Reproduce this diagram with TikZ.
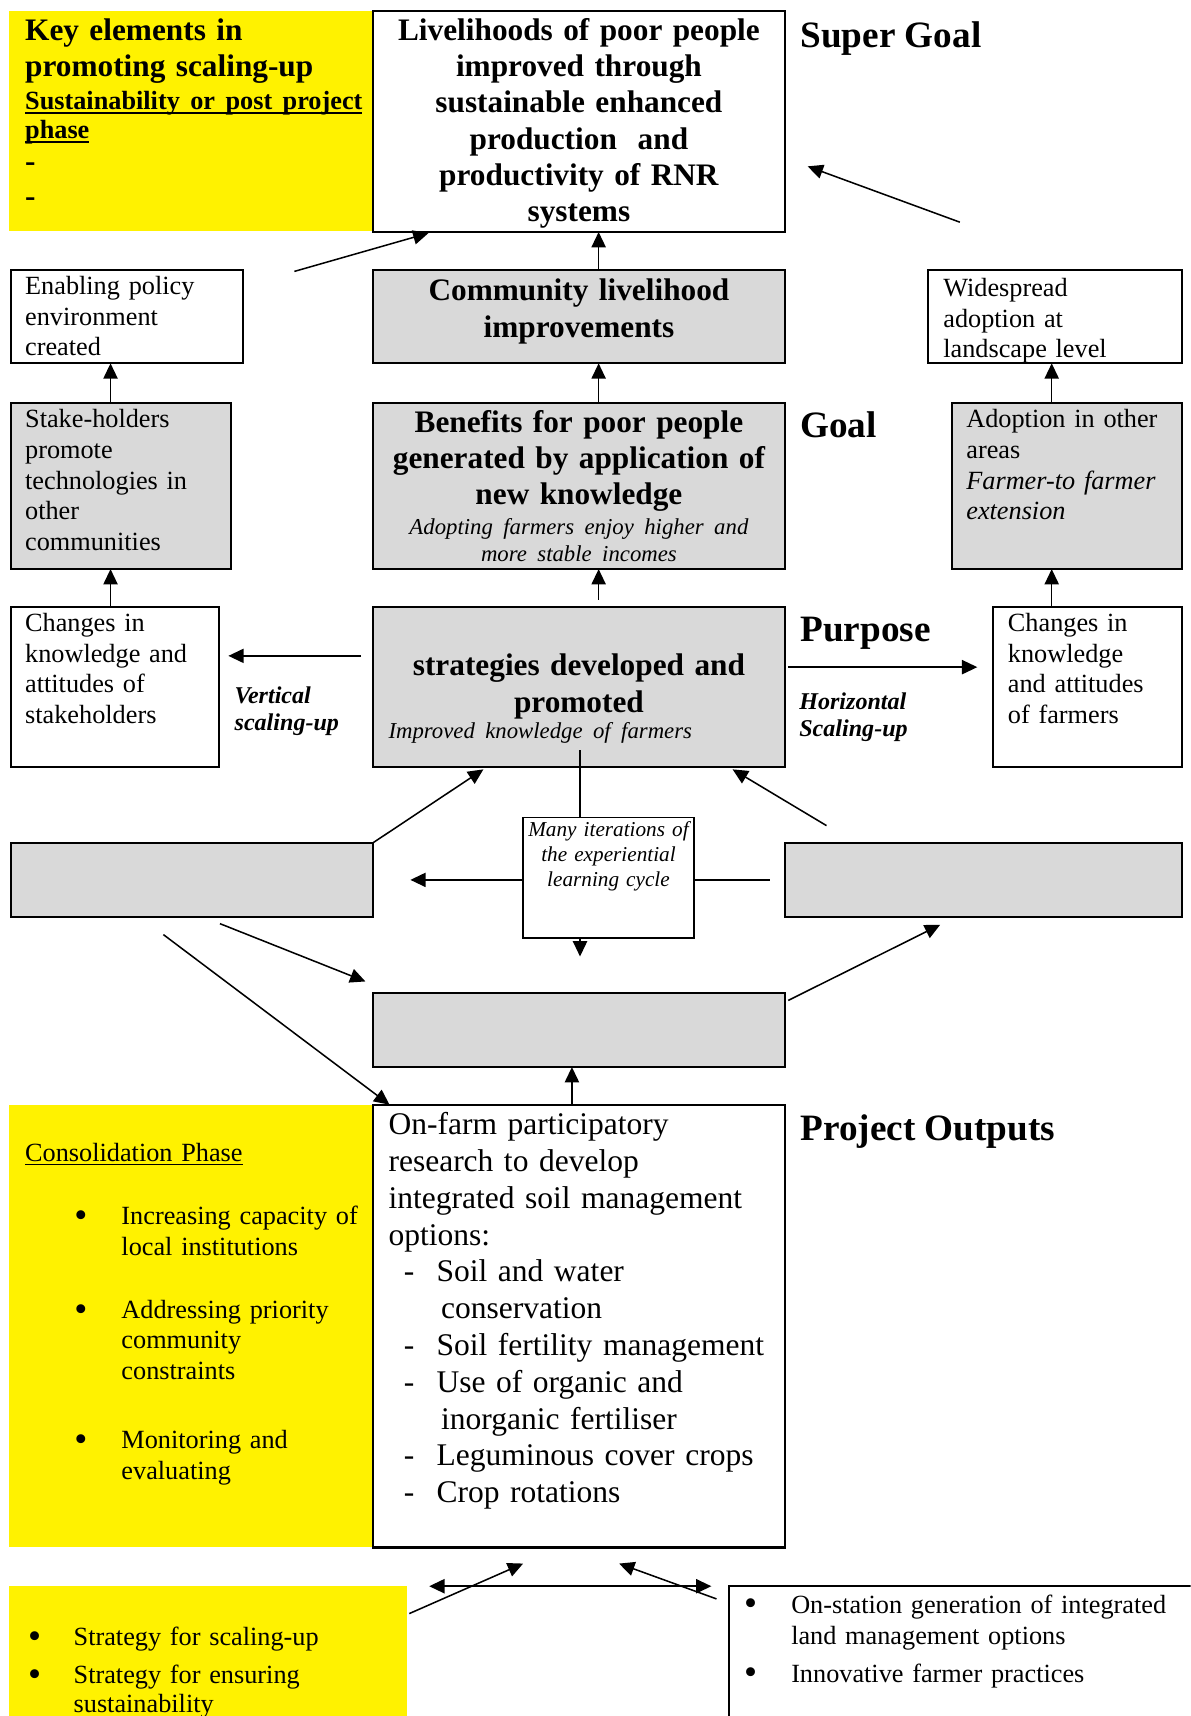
\documentclass[tikz,border=0pt]{standalone}
\usepackage{fontspec}
\setmainfont{Liberation Serif}
\usetikzlibrary{arrows.meta, calc}
\tikzset{arr/.style={-{Triangle[length=7pt, width=6.5pt]}, line width=0.7pt}}
\tikzset{arrb/.style={{Triangle[length=7pt, width=6.5pt]}-{Triangle[length=7pt, width=6.5pt]}, line width=0.7pt}}

\newcommand\fbig{\normalfont\fontsize{14.3}{16.5}\selectfont\bfseries}
\newcommand\fmid{\normalfont\fontsize{14.4}{16.8}\selectfont}
\newcommand\fnorm{\normalfont\fontsize{12}{14}\selectfont}
\newcommand\fsmbf{\normalfont\fontsize{12}{14}\selectfont\bfseries}
\newcommand\fsmit{\normalfont\fontsize{10.4}{12.5}\selectfont\itshape}
\newcommand\ftinyit{\normalfont\fontsize{9.7}{11.5}\selectfont\itshape}
\newcommand\fhead{\normalfont\fontsize{17}{20}\selectfont\bfseries}
\newcommand\fscal{\normalfont\fontsize{11}{12.3}\selectfont\bfseries\itshape}
\newcommand\bul{\raisebox{-1.3pt}{\fontsize{17}{14}\selectfont\textbullet}}
\newsavebox\ulbox
\newcommand\undl[1]{\leavevmode\sbox\ulbox{#1}\rlap{\rule[-1.8pt]{\wd\ulbox}{0.7pt}}\usebox\ulbox}

\begin{document}
\begin{tikzpicture}[
      x=0.5pt, y=-0.5pt,
      box/.style={draw, line width=1pt, anchor=north west, inner ysep=0pt, outer sep=0pt, align=left},
      shaded/.style={box, fill=gray!30},
      yel/.style={fill=yellow, anchor=north west, inner ysep=0pt, outer sep=0pt, align=left},
      lbl/.style={anchor=base west, inner sep=0pt, font=\fhead},
  ]
      \useasboundingbox (0,0) rectangle (1088,1568);
      \clip (0,0) rectangle (1088,1568);
      \fill[white] (0,0) rectangle (1088,1568);

      % Top row: key elements and super goal
      \node[yel, inner xsep=7.5pt, text width=151.5pt, text height=13.6pt, text depth=86.9pt, font=\fbig] (keyel) at (8,10)
        {Key elements in\\promoting scaling-up\\[-1.5pt]{\fsmbf\undl{Sustainability or post project}}\\[-3.1pt]{\fsmbf\undl{phase}}\\[-1.65pt]-\\[-0.5pt]-};
      \node[box, fill=white, align=center, inner xsep=3.5pt, text width=181pt, text height=13.6pt, text depth=87.4pt, font=\fbig] (sgoal) at (341,10)
        {Livelihoods of poor people\\improved through\\sustainable enhanced\\production~ and\\productivity of RNR\\systems};
      \node[lbl] (lblsuper) at (731,43) {Super Goal};

      % Second row
      \node[box, inner xsep=6.5pt, text width=93pt, text height=11pt, text depth=31.5pt, font=\fnorm] (enab) at (10,247)
        {Enabling policy\\environment\\created};
      \node[shaded, align=center, inner xsep=3.5pt, text width=181pt, text height=14pt, text depth=28.5pt, font=\fbig] (comm) at (341,247)
        {Community livelihood\\improvements};
      \node[box, inner xsep=7pt, text width=102pt, text height=12pt, text depth=30.5pt, font=\fnorm] (wide) at (848,247)
        {Widespread\\adoption at\\landscape level};

      % Third row: goal
      \node[shaded, inner xsep=6.5pt, text width=87.5pt, text height=11.5pt, text depth=64.5pt, font=\fnorm] (stake) at (10,368)
        {Stake-holders\\promote\\technologies in\\other\\communities};
      \node[shaded, align=center, inner xsep=3.5pt, text width=181pt, text height=13.5pt, text depth=62.5pt, font=\fbig] (bene) at (341,368)
        {Benefits for poor people\\generated by application of\\new knowledge\\[-3pt]{\fsmit Adopting farmers enjoy higher and}\\[-4pt]{\fsmit more stable incomes}};
      \node[lbl] (lblgoal) at (731,399.5) {Goal};
      \node[shaded, inner xsep=6.5pt, text width=92pt, text height=11.5pt, text depth=64.5pt, font=\fnorm] (adop) at (870,368)
        {Adoption in other\\areas\\{\itshape Farmer-to farmer}\\{\itshape extension}};

      % Fourth row: purpose
      \node[box, inner xsep=6.5pt, text width=82pt, text height=11pt, text depth=62pt, font=\fnorm] (chgL) at (10,555)
        {Changes in\\knowledge and\\attitudes of\\stakeholders};
      \node[shaded, align=center, inner xsep=3.5pt, text width=181pt, text height=31pt, text depth=42pt, font=\fbig] (strat) at (341,555)
        {strategies developed and\\[0.5pt]promoted\\[-4.5pt]\makebox[181pt][l]{\hspace*{3.5pt}\fsmit Improved knowledge of farmers}};
      \node[box, inner xsep=7pt, text width=72.5pt, text height=11pt, text depth=62pt, font=\fnorm] (chgR) at (907,555)
        {Changes in\\knowledge\\and attitudes\\of farmers};
      \node[lbl] (lblpurp) at (731,586) {Purpose};
      \node[anchor=base west, inner sep=0pt, align=left, text width=60pt, font=\fscal] (lblvert) at (214,642.5) {Vertical\\scaling-up};
      \node[anchor=base west, inner sep=0pt, align=left, text width=60pt, font=\fscal] (lblhor) at (730,648.6) {Horizontal\\Scaling-up};

      % Learning cycle row (empty grey boxes)
      \node[shaded, minimum width=165.5pt, minimum height=34pt, inner sep=0pt] (midL) at (10,770) {};
      \node[shaded, minimum width=181.5pt, minimum height=34pt, inner sep=0pt] (midR) at (717,770) {};
      \node[box, fill=white, line width=0.7pt, align=center, inner xsep=2pt, text width=74pt, text height=8.5pt, text depth=46.5pt, font=\ftinyit] (iter) at (478,747)
        {\mbox{Many iterations of}\\the experiential\\learning cycle};
      \node[shaded, minimum width=188pt, minimum height=34pt, inner sep=0pt] (botg) at (341,907) {};

      % Project outputs
      \node[yel, inner xsep=7.5pt, text width=151.5pt, text height=25.5pt, text depth=176.5pt, font=\fnorm] (consol) at (8,1010)
        {\undl{Consolidation Phase}\\[15pt]
         \mbox{\hspace*{22.5pt}\makebox[21.5pt][l]{\bul}Increasing capacity of}\\
         \hspace*{44pt}local institutions\\[14.75pt]
         \hspace*{22.5pt}\makebox[21.5pt][l]{\bul}Addressing priority\\
         \hspace*{44pt}community\\
         \hspace*{44pt}constraints\\[17.5pt]
         \hspace*{22.5pt}\makebox[21.5pt][l]{\bul}Monitoring and\\
         \hspace*{44pt}evaluating};
      \node[box, inner xsep=7pt, text width=174pt, text height=13.5pt, text depth=188.5pt, font=\fmid] (onfarm) at (341,1010)
        {On-farm participatory\\
         research to develop\\
         \mbox{integrated soil management}\\
         options:\\
         \hspace*{7pt}\makebox[15pt][l]{-}Soil and water\\
         \hspace*{24pt}conservation\\
         \mbox{\hspace*{7pt}\makebox[15pt][l]{-}Soil fertility management}\\
         \hspace*{7pt}\makebox[15pt][l]{-}Use of organic and\\
         \hspace*{24pt}inorganic fertiliser\\
         \hspace*{7pt}\makebox[15pt][l]{-}Leguminous cover crops\\
         \hspace*{7pt}\makebox[15pt][l]{-}Crop rotations};
      \node[lbl] (lblout) at (731,1042) {Project Outputs};

      % Bottom row
      \node[yel, inner xsep=8.85pt, text width=164.3pt, text height=27.3pt, text depth=35.2pt, font=\fnorm] (botY) at (8,1449.4)
        {\makebox[20.8pt][l]{\bul}Strategy for scaling-up\\[3.35pt]
         \makebox[20.8pt][l]{\bul}Strategy for ensuring\\[-1pt]
         \hspace*{20.8pt}sustainability};
      \node[box, inner xsep=7pt, text width=206pt, text height=12.3pt, text depth=50.2pt, font=\fnorm] (botR) at (666,1449.4)
        {\makebox[21.5pt][l]{\bul}On-station generation of integrated\\[0.5pt]
         \hspace*{21.5pt}land management options\\[3pt]
         \makebox[21.5pt][l]{\bul}Innovative farmer practices};

      % Upward chain
      \draw[arr] ($(enab.north east)+(47,1)$) -- ($(sgoal.south west)+(50.5,1)$);
      \draw[arr] ($(wide.north west)+(29,-44)$) -- ($(sgoal.east)+(21,41)$);
      \draw[arr] ([xshift=9pt]comm.north) -- ([xshift=9pt]sgoal.south);
      \draw[arr] ([xshift=9pt]bene.north) -- ([xshift=9pt]comm.south);
      \draw[arr] ($(strat.north)+(18,-7)$) -- ([xshift=9pt]bene.south);
      \draw[arr] ($(stake.north west)+(91,0)$) -- ($(enab.south west)+(91,0)$);
      \draw[arr] ($(chgL.north west)+(91,0)$) -- ($(stake.south west)+(91,0)$);
      \draw[arr] ($(adop.north west)+(91,0)$) -- ($(wide.south west)+(113,0)$);
      \draw[arr] ($(chgR.north west)+(54,0)$) -- ($(adop.south west)+(91,0)$);

      % Scaling-up arrows
      \draw[arr] ($(strat.west)+(-11,-28.7)$) -- ($(chgL.east)+(8.7,-28.7)$);
      \draw[arr] ($(strat.east)+(3,-18.4)$) -- ($(chgR.west)+(-14,-18.4)$);

      % Learning cycle
      \draw[line width=0.7pt] ($(iter.north west)+(52,0)$) -- ($(strat.south west)+(189,-16)$);
      \draw[arr] (iter.west |- midL.east) -- ($(midL.east)+(34,0)$);
      \draw[line width=0.7pt] (iter.east |- midR.west) -- ($(midR.west)+(-13.4,0)$);
      \draw[arr] ($(iter.south west)+(52,0)$) -- ($(botg.north west)+(189,-33)$);
      \draw[arr] (midL.north east) -- ($(strat.south west)+(100.7,2)$);
      \draw[arr] ($(midR.north west)+(38.2,-15.6)$) -- ($(strat.south east)+(-47.6,2)$);
      \draw[arr] ($(midL.south west)+(191,6)$) -- ($(botg.north west)+(-7.1,-10.2)$);
      \draw[arr] ($(midL.south west)+(139.3,16)$) -- ($(onfarm.north west)+(14.9,-0.6)$);
      \draw[arr] ($(botg.north east)+(3.3,7.1)$) -- ($(midR.south west)+(142.1,7)$);
      \draw[arr] ($(onfarm.north west)+(181.6,0)$) -- ($(botg.south west)+(181.6,0)$);

      % Bottom arrows
      \draw[arrb] ($(onfarm.south west)+(51.2,35.4)$) -- ($(onfarm.south west)+(309,35.4)$);
      \draw[arr] ($(botY.north east)+(2,25)$) -- ($(onfarm.south west)+(137,14.7)$);
      \draw[arr] ($(botR.north west)+(-11.3,11.6)$) -- ($(onfarm.south west)+(224.7,14.7)$);
\end{tikzpicture}
\end{document}
